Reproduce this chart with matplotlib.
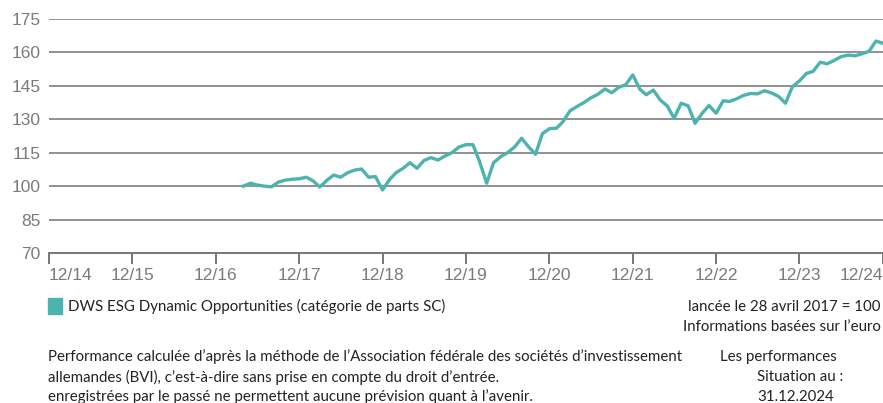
import matplotlib
matplotlib.use("Agg")
import matplotlib.pyplot as plt
import pandas as pd

# Monthly values, launch end of April 2017 = 100
start_date = "2017-04-30"
values = [
    100.0, 101.3, 100.5, 100.0, 99.7, 101.8, 102.7, 103.1, 103.3, 104.0,
    102.5, 99.6, 102.5, 105.0, 104.0, 106.0, 107.2, 107.7, 104.0, 104.3,
    98.3, 103.0, 106.0, 108.0, 110.5, 108.0, 111.5, 112.8, 111.7, 113.5,
    115.0, 117.5, 118.6, 118.6, 111.0, 101.3, 110.5, 113.2, 115.0, 117.5,
    121.5, 117.7, 114.3, 123.5, 125.8, 126.0, 128.9, 133.8, 135.7, 137.5,
    139.6, 141.2, 143.6, 141.9, 144.4, 145.5, 149.9, 143.5, 141.0, 143.1,
    138.7, 136.0, 130.4, 137.2, 136.0, 128.2, 132.7, 136.2, 132.7, 138.3,
    138.0, 139.2, 140.7, 141.6, 141.4, 142.8, 141.8, 140.3, 137.2, 144.6,
    147.2, 150.6, 151.5, 155.6, 154.9, 156.4, 158.1, 158.8, 158.5, 159.4,
    160.5, 165.1, 164.1,
]
dates = pd.date_range(start_date, periods=len(values), freq="ME")

tick_years = list(range(2014, 2025))
tick_labels = ["12/%02d" % (y % 100) for y in tick_years]
y_ticks = [70, 85, 100, 115, 130, 145, 160, 175]

series_label = "DWS ESG Dynamic Opportunities (catégorie de parts SC)"
note_right = ["lancée le 28 avril 2017 = 100", "Informations basées sur l\u2019euro"]
foot_left = [
    "Performance calculée d\u2019après la méthode de l\u2019Association fédérale des sociétés d\u2019investissement",
    "allemandes (BVI), c\u2019est-à-dire sans prise en compte du droit d\u2019entrée.",
    "enregistrées par le passé ne permettent aucune prévision quant à l\u2019avenir.",
]
foot_right = ["Les performances", "Situation au :", "31.12.2024"]

teal = "#4db3ae"
grid_col = "#909090"
tick_col = "#7a7a7a"
text_col = "#222222"

fig = plt.figure(figsize=(8.83, 4.03), dpi=100)
ax = fig.add_axes([49 / 883, 1 - 253 / 403, 1 - 49 / 883, (253 - 19) / 403])

ax.plot(dates, values, color=teal, linewidth=2.4, solid_joinstyle="round", zorder=3)

ax.set_ylim(70, 175)
ax.set_xlim(pd.Timestamp("2014-12-31"), pd.Timestamp("2024-12-31"))
ax.set_yticks(y_ticks)
ax.set_yticklabels([str(v) for v in y_ticks])
for v in y_ticks[1:]:
    ax.axhline(v, color=grid_col, linewidth=1.4, zorder=1)

tick_dates = [pd.Timestamp("%d-12-31" % y) for y in tick_years]
ax.set_xticks(tick_dates)
ax.set_xticklabels(tick_labels)
labels = ax.get_xticklabels()
labels[0].set_horizontalalignment("left")
labels[-1].set_horizontalalignment("right")

for s in ["top", "right", "left"]:
    ax.spines[s].set_visible(False)
ax.spines["bottom"].set_color("#777777")
ax.spines["bottom"].set_linewidth(1.4)
ax.tick_params(axis="y", length=0, pad=6, labelsize=12.5, labelcolor=tick_col)
ax.tick_params(axis="x", length=8, width=1.4, color="#777777", pad=3,
               labelsize=12.5, labelcolor=tick_col)
for lab in ax.get_xticklabels() + ax.get_yticklabels():
    lab.set_family("Liberation Sans")

# legend block
fig.patches.append(plt.Rectangle((48 / 883, 1 - 314 / 403), 14 / 883, 16 / 403,
                                 transform=fig.transFigure, color=teal))
small = dict(family="Lato", fontsize=10.8, color=text_col)
fig.text(68 / 883, 1 - 306 / 403, series_label, va="center", ha="left", **small)
fig.text(881 / 883, 1 - 307 / 403, note_right[0], va="center", ha="right", **small)
fig.text(881 / 883, 1 - 327 / 403, note_right[1], va="center", ha="right", **small)

for i, line in enumerate(foot_left):
    fig.text(48 / 883, 1 - (357 + 20 * i) / 403, line, va="center", ha="left", **small)
fig.text(720 / 883, 1 - 357 / 403, foot_right[0], va="center", ha="left", **small)
fig.text(757 / 883, 1 - 377 / 403, foot_right[1], va="center", ha="left", **small)
fig.text(757 / 883, 1 - 397 / 403, foot_right[2], va="center", ha="left", **small)

fig.savefig("out.png", dpi=100)
